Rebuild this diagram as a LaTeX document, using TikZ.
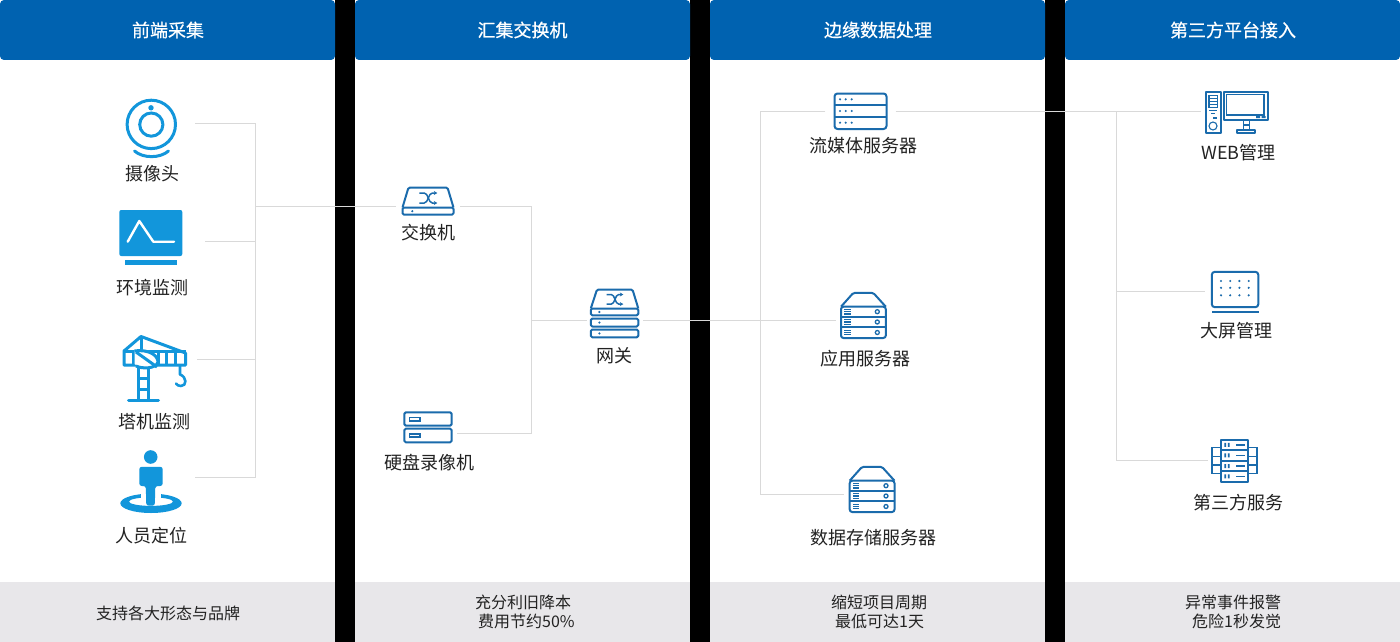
\documentclass[tikz,border=0pt]{standalone}
\usepackage{fontspec}
\setmainfont{Noto Sans CJK SC}
\newfontfamily\headfont[FakeBold=0.6]{Noto Sans CJK SC}
\usetikzlibrary{arrows.meta}
\definecolor{panelblue}{HTML}{0062B0}
\definecolor{footgray}{HTML}{E8E7EA}
\definecolor{wirecol}{HTML}{D9D9D9}
\definecolor{iconcyan}{HTML}{1296DB}
\definecolor{icondark}{HTML}{1A6BAC}
\definecolor{labelcol}{HTML}{222222}
\tikzset{
  panel/.style={fill=white,draw=none},
  header/.style={fill=panelblue,draw=none,rounded corners=4pt},
  footbar/.style={fill=footgray,draw=none},
  headtext/.style={text=white,font=\headfont\fontsize{18pt}{22pt}\selectfont,inner sep=0pt},
  foottext/.style={text=labelcol,font=\fontsize{16pt}{20pt}\selectfont,inner sep=0pt,align=left},
  label/.style={text=labelcol,font=\fontsize{18pt}{22pt}\selectfont,inner sep=0pt},
  wire/.style={draw=wirecol,line width=1pt,line join=miter},
  hit/.style={draw=none,fill=none,inner sep=0pt,minimum height=2pt},
  cy/.style={draw=iconcyan,line width=3pt},
  dk/.style={draw=icondark,line width=2pt,rounded corners=1.5pt,line join=round},
  dkthin/.style={draw=icondark,line width=1.5pt},
  dkfill/.style={fill=icondark,draw=none},
}
% shuffle glyph centred on (#1,#2), half width #3, half height #4
\newcommand{\shuffleglyph}[4]{%
  \begin{scope}[shift={(#1,#2)}]
    \draw[dkthin,-{Stealth[length=3.5pt,width=4pt]}] (-#3,-#4) -- (-#3*0.45,-#4) .. controls (0,-#4) and (0,#4) .. (#3*0.45,#4) -- (#3,#4);
    \draw[dkthin,-{Stealth[length=3.5pt,width=4pt]}] (-#3,#4) -- (-#3*0.45,#4) .. controls (0,#4) and (0,-#4) .. (#3*0.45,-#4) -- (#3,-#4);
  \end{scope}}
\newcommand{\roofserver}[2]{%
  \begin{scope}[shift={(#1,#2)}]
    \draw[dk] (841,306.7) -- (853.3,292.9) -- (873.3,292.9) -- (885.8,306.7);
    \draw[dk,rounded corners=2.5pt] (841,306.7) rectangle (885.8,338);
    \draw[dkthin,line width=1.8pt] (841,316.7) -- (885.8,316.7) (841,327.3) -- (885.8,327.3);
    \foreach \yy in {311.7,322,332.5}{
      \foreach \dd in {-2.3,0,2.3}{
        \fill[icondark] (844.3,\yy+\dd-0.55) rectangle (850.7,\yy+\dd+0.55);
      }
      \draw[dkthin,line width=1.3pt] (877.3,\yy) circle (2pt);
    }
  \end{scope}}
\begin{document}
\begin{tikzpicture}[x=1pt,y=-1pt]
\useasboundingbox (0,0) rectangle (1400,642);
\fill[black] (0,0) rectangle (1400,642);
% panels
\foreach \px in {0,355,710,1065}{
  \fill[panel] (\px,0) rectangle ++(335,582);
  \fill[header] (\px,0) rectangle ++(335,60);
  \fill[footbar] (\px,582) rectangle ++(335,60);
}
% header texts
\node[headtext] (h1) at (168,30) {前端采集};
\node[headtext] (h2) at (522.5,30) {汇集交换机};
\node[headtext] (h3) at (878,30) {边缘数据处理};
\node[headtext] (h4) at (1233,30) {第三方平台接入};
% footer texts
\node[foottext] (f1) at (168,613) {支持各大形态与品牌};
\node[foottext,anchor=north west] (f2) at (475,595) {充分利旧降本\\[-1pt]\hspace*{3pt}费用节约50\%};
\node[foottext,anchor=north west] (f3) at (831,595) {缩短项目周期\\[-1pt]\hspace*{4pt}最低可达1天};
\node[foottext,anchor=north west] (f4) at (1185,595) {异常事件报警\\[-1pt]\hspace*{7pt}危险1秒发觉};

% anchor nodes for the icons (connector ends)
\node[hit,minimum width=88pt] (cam) at (151,123.5) {};
\node[hit,minimum width=108pt] (env) at (151,241.5) {};
\node[hit,minimum width=92pt] (crane) at (151,359.5) {};
\node[hit,minimum width=88pt] (person) at (151,477.5) {};
\node[hit,minimum width=64pt] (sw) at (428,206.5) {};
\node[hit,minimum width=58pt] (dvr) at (428,433.5) {};
\node[hit,minimum width=56pt] (gw) at (615,320.5) {};
\node[hit,minimum width=70pt] (stream) at (860.5,111.5) {};
\node[hit,minimum width=56pt] (app) at (864,320.5) {};
\node[hit,minimum width=56pt] (data) at (872,494.5) {};
\node[hit,minimum width=70pt] (web) at (1236,111.5) {};
\node[hit,minimum width=60pt] (screen) at (1235,291.5) {};
\node[hit,minimum width=60pt] (third) at (1238,460.5) {};
% bus junctions
\coordinate (a1) at (255.5,123.5);
\coordinate (a2) at (255.5,477.5);
\coordinate (a3) at (255.5,241.5);
\coordinate (a4) at (255.5,359.5);
\coordinate (a5) at (255.5,206.5);
\coordinate (b1) at (531.5,206.5);
\coordinate (b2) at (531.5,433.5);
\coordinate (b3) at (531.5,320.5);
\coordinate (c1) at (760.5,111.5);
\coordinate (c2) at (760.5,494.5);
\coordinate (c3) at (760.5,320.5);
\coordinate (d1) at (1116.5,111.5);
\coordinate (d2) at (1116.5,460.5);
\coordinate (d3) at (1116.5,291.5);
% connectors
\draw[wire] (cam.east) -- (a1) -- (a2) -- (person.east);
\draw[wire] (env.east) -- (a3);
\draw[wire] (crane.east) -- (a4);
\draw[wire] (a5) -- (sw.west);
\draw[wire] (sw.east) -- (b1) -- (b2) -- (dvr.east);
\draw[wire] (b3) -- (gw.west);
\draw[wire] (gw.east) -- (c3);
\draw[wire] (stream.west) -- (c1) -- (c2) -- (data.west);
\draw[wire] (c3) -- (app.west);
\draw[wire] (stream.east) -- (d1) -- (web.west);
\draw[wire] (d1) -- (d2) -- (third.west);
\draw[wire] (d3) -- (screen.west);

% camera
\draw[cy] (151.3,124.4) circle (24.2pt);
\draw[cy] (151.3,124.6) circle (11.6pt);
\fill[iconcyan] (151,107.8) circle (2.7pt);
\draw[cy,line cap=round] (134.5,151) .. controls (143,158.5) and (160,158.5) .. (168.5,151);
% environment
\fill[iconcyan,rounded corners=2pt] (119.3,210) rectangle (182.3,256);
\draw[white,line width=2.4pt,line cap=round,line join=round] (127.7,241.7) -- (139.3,221) -- (153.3,241.7) -- (174,241.7);
\fill[iconcyan] (125,260.3) rectangle (176.7,264.5);
% crane
\begin{scope}[line join=round]
  \tikzset{every path/.append style={line width=3pt}}
  \draw[iconcyan] (124,365) -- (124,351) -- (141,336.5) -- (185.5,353) -- (185.5,365) -- cycle;
  \draw[iconcyan] (124,351.5) -- (185.5,351.5);
  \draw[iconcyan] (141,336.5) -- (141,351);
  \draw[iconcyan] (133,351) -- (133,365);
  \draw[iconcyan] (158.5,352) -- (158.5,365) (166.7,352) -- (166.7,365) (175,352) -- (175,365);
  \fill[white] (134.5,350) .. controls (150,348) and (158,355) .. (158,363) .. controls (156,370) and (142,370) .. (134.5,364) -- cycle;
  \draw[iconcyan] (134.5,351) .. controls (150,349) and (158,356) .. (158,362) .. controls (156,369) and (142,369) .. (136,366);
  \draw[iconcyan] (136,352) -- (157,367);
  \draw[iconcyan] (138,367) -- (138,400) (148.5,367) -- (148.5,400);
  \draw[iconcyan] (138,378.5) -- (148.5,378.5) (138,389.5) -- (148.5,389.5);
  \draw[iconcyan,line cap=round] (128.5,400.5) -- (158.5,400.5);
  \draw[iconcyan,line width=2.6pt,line cap=round] (180,366) -- (180,374.5) .. controls (187,377) and (187,386) .. (181,386) .. controls (178.5,386) and (177,385) .. (176,383.5);
\end{scope}
% person
\fill[iconcyan,even odd rule] (151,503.3) ellipse [x radius=30.7pt,y radius=9.7pt] (151,501.6) ellipse [x radius=22pt,y radius=4.3pt];
\fill[white] (141,490) rectangle (161,500);
\fill[iconcyan] (150.7,457) circle (6.8pt);
\fill[iconcyan,rounded corners=2.5pt] (139.3,486) -- (139.3,466.8) -- (162.7,466.8) -- (162.7,486) -- (155.3,486) -- (154.8,505.7) -- (146.3,505.7) -- (145.8,486) -- cycle;

% switch
\draw[dk] (402.5,207.5) -- (408.5,187.5) -- (447.5,187.5) -- (453.5,207.5);
\draw[dk] (402.5,207.5) rectangle (453.5,214.7);
\fill[icondark] (412.3,211.2) circle (1.2pt);
\shuffleglyph{428.3}{198}{9}{5}
% DVR
\draw[dk] (404.3,412.3) rectangle (451.7,425.7);
\draw[dk] (404.3,428.7) rectangle (451.7,442.3);
\draw[dkthin] (409.5,417.5) rectangle (420,420.8);
\draw[dkthin] (409.5,433.8) rectangle (420,437.2);
% gateway
\draw[dk] (590.8,308.5) -- (597,289.5) -- (632.5,289.5) -- (638.3,308.5);
\draw[dk] (590.8,308.5) rectangle (638.3,315.3);
\draw[dk] (590.8,318.6) rectangle (638.3,326.5);
\draw[dk] (590.8,329.5) rectangle (638.3,337.3);
\fill[icondark] (599.4,312) circle (1.2pt) (599.4,322.6) circle (1.2pt) (599.4,333.4) circle (1.2pt);
\shuffleglyph{615}{299.3}{8.3}{4.8}
% streaming server
\draw[dk,rounded corners=3pt] (834.5,93.5) rectangle (886.5,129);
\draw[dkthin,line width=2pt] (834.5,105.2) -- (886.5,105.2) (834.5,117) -- (886.5,117);
\foreach \yy in {99.3,111,122.7}{
  \fill[icondark] (840,\yy) circle (1.2pt) (845.7,\yy) circle (1.2pt) (851.7,\yy) circle (1.2pt);
}
% application and data servers
\roofserver{0}{0}
\roofserver{8.7}{174}
% web
\draw[dk,rounded corners=0pt] (1205.5,92) rectangle (1220.5,133.2);
\draw[dkthin,line width=1.1pt] (1209,95.2) rectangle (1217.3,107.3);
\draw[dkthin,line width=1.1pt] (1209,98.2) -- (1217.3,98.2) (1209,101.2) -- (1217.3,101.2) (1209,104.2) -- (1217.3,104.2);
\draw[dkthin,line width=1.1pt] (1209,110.7) -- (1217.3,110.7) (1211,113.5) -- (1215.3,113.5);
\fill[icondark] (1213.2,116.5) rectangle (1217,119);
\draw[dkthin,line width=1.1pt] (1213,126) circle (4pt);
\draw[dk,rounded corners=0pt] (1223.5,92) rectangle (1267.5,120);
\draw[dkthin,line width=1.1pt] (1226.7,94.5) rectangle (1264,115);
\fill[icondark] (1256,116) rectangle (1260,118) (1261.5,116) rectangle (1265.5,118);
\draw[dkthin] (1243.5,120) -- (1243.5,130) (1249.3,120) -- (1249.3,130) (1243.5,125) -- (1249.3,125);
\draw[dk,rounded corners=0pt] (1237,130.2) rectangle (1255,133.2);
% big screen
\draw[dk,rounded corners=3pt] (1211.8,271.8) rectangle (1258.3,307.2);
\fill[icondark] (1211.5,311.2) rectangle (1258.5,313.4);
\foreach \xx in {1221,1230.2,1239.4,1248.7}{
  \fill[icondark] (\xx,281) circle (1.2pt) (\xx,287.8) circle (1.2pt) (\xx,295.3) circle (1.2pt);
}
% third-party service
\draw[dk,rounded corners=0pt] (1221,439.5) rectangle (1248.3,481.5);
\draw[dkthin,line width=1.7pt] (1221,450) -- (1248.3,450) (1221,460.7) -- (1248.3,460.7) (1221,471.2) -- (1248.3,471.2);
\foreach \yy in {444.8,455.3,466,476.3}{
  \fill[icondark] (1224.3,\yy-2) rectangle (1226,\yy+2) (1227.8,\yy-2) rectangle (1229.5,\yy+2);
  \fill[icondark] (1236,\yy-0.7) rectangle (1245,\yy+0.7);
}
\draw[dkthin] (1221,447.7) -- (1212,447.7) -- (1212,473.5) -- (1221,473.5) (1212,456.3) -- (1221,456.3) (1212,465) -- (1221,465);
\draw[dkthin] (1248.3,447.7) -- (1257,447.7) -- (1257,473.5) -- (1248.3,473.5) (1257,456.3) -- (1248.3,456.3) (1257,465) -- (1248.3,465);

% labels
\node[label] (l1) at (152,174) {摄像头};
\node[label] (l2) at (152,288) {环境监测};
\node[label] (l3) at (154,422) {塔机监测};
\node[label] (l4) at (151,536) {人员定位};
\node[label] (l5) at (428.5,233) {交换机};
\node[label] (l6) at (429.5,463) {硬盘录像机};
\node[label] (l7) at (614,356) {网关};
\node[label] (l8) at (863.5,146) {流媒体服务器};
\node[label] (l9) at (865.5,359) {应用服务器};
\node[label] (l10) at (873,538) {数据存储服务器};
\node[label] (l11) at (1238.5,153) {WEB管理};
\node[label] (l12) at (1236,331) {大屏管理};
\node[label] (l13) at (1238,503) {第三方服务};
\end{tikzpicture}
\end{document}
